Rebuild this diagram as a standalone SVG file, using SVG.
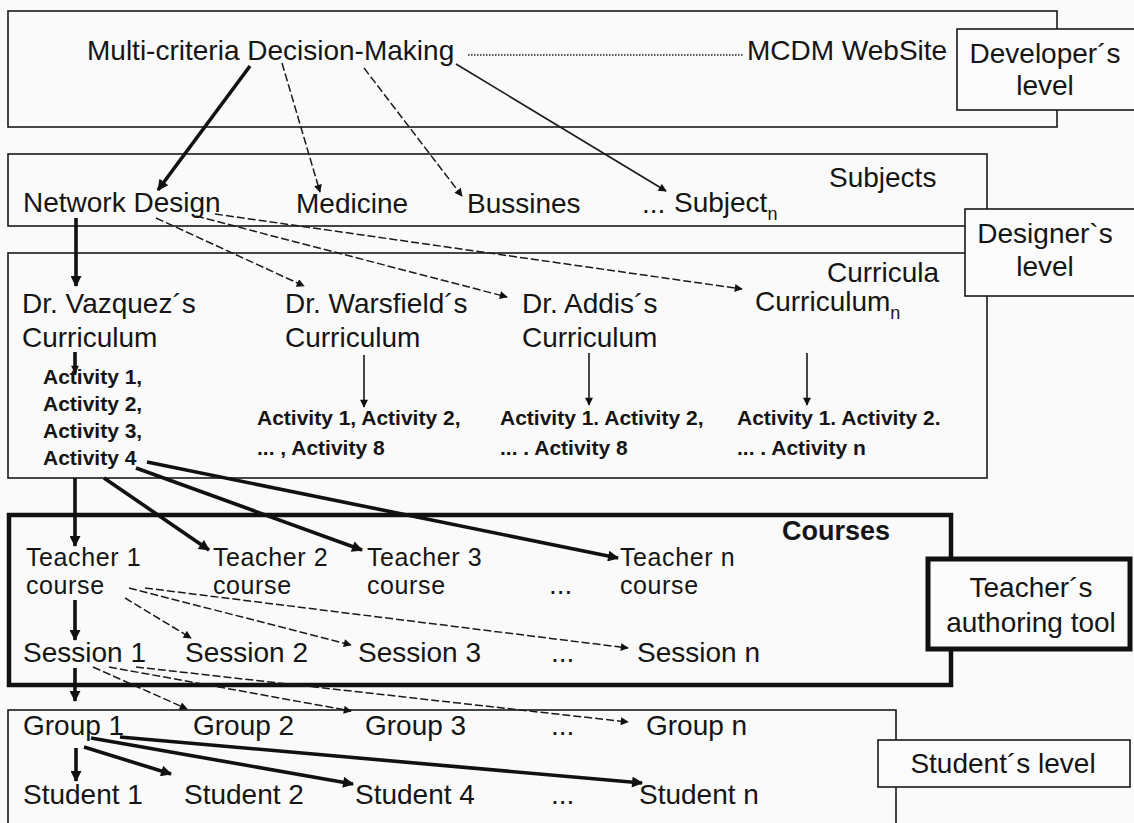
<svg xmlns="http://www.w3.org/2000/svg" width="1134" height="823" viewBox="0 0 1134 823">
  <style>
    .frame { fill: none; stroke: #1a1a1a; stroke-width: 1.6; }
    .frame-bold { fill: none; stroke: #111; stroke-width: 4.5; }
    .tag { fill: #fbfbfb; stroke: #1a1a1a; stroke-width: 1.6; }
    .tag-bold { fill: #fbfbfb; stroke: #111; stroke-width: 5; }
    text { font-family: "Liberation Sans", Arial, sans-serif; font-size: 28px; fill: #151515; }
    .act { font-weight: bold; font-size: 21px; }
    .hdr { font-weight: bold; font-size: 27px; }
    .tight { font-size: 25px; letter-spacing: 0.6px; }
    .mid { text-anchor: middle; }
    .sub { font-size: 18px; }
    .thick { fill: none; stroke: #111; stroke-width: 3.6; }
    .thin { fill: none; stroke: #1a1a1a; stroke-width: 1.6; }
    .dash { fill: none; stroke: #1a1a1a; stroke-width: 1.5; stroke-dasharray: 8 3; }
    .dot { fill: none; stroke: #222; stroke-width: 1.4; stroke-dasharray: 1.5 1.5; }
  </style>
  <defs>
    <marker id="headThin" viewBox="0 0 10 10" refX="9" refY="5" markerWidth="10" markerHeight="8" markerUnits="userSpaceOnUse" orient="auto">
      <path d="M0,0 L10,5 L0,10 z" fill="#111"/>
    </marker>
    <marker id="headThick" viewBox="0 0 10 10" refX="9" refY="5" markerWidth="13" markerHeight="11" markerUnits="userSpaceOnUse" orient="auto">
      <path d="M0,0 L10,5 L0,10 z" fill="#111"/>
    </marker>
  </defs>

  <rect width="1134" height="823" fill="#fafafa"/>

  <!-- level frames -->
  <g id="developer-frame"><rect class="frame" x="8" y="11" width="1049" height="116"/></g>
  <g id="subjects-frame"><rect class="frame" x="8" y="154" width="979" height="72"/></g>
  <g id="curricula-frame"><rect class="frame" x="8" y="253" width="979" height="225"/></g>
  <g id="courses-frame"><rect class="frame-bold" x="9" y="515" width="942" height="170"/></g>
  <g id="groups-frame"><rect class="frame" x="8" y="710" width="888" height="125"/></g>

  <!-- level tags -->
  <g id="developers-level">
    <rect class="tag" x="957" y="29" width="180" height="81"/>
    <text class="mid" x="1045" y="63">Developer´s</text>
    <text class="mid" x="1045" y="95">level</text>
  </g>
  <g id="designers-level">
    <rect class="tag" x="965" y="209" width="172" height="87"/>
    <text class="mid" x="1045" y="243">Designer`s</text>
    <text class="mid" x="1045" y="276">level</text>
  </g>
  <g id="teachers-tool">
    <rect class="tag-bold" x="928" y="559" width="202" height="90"/>
    <text class="mid" x="1031" y="597">Teacher´s</text>
    <text class="mid" x="1031" y="632">authoring tool</text>
  </g>
  <g id="students-level">
    <rect class="tag" x="878" y="740" width="252" height="47"/>
    <text class="mid" x="1003" y="773">Student´s level</text>
  </g>

  <!-- connectors -->
  <g id="connectors">
    <line class="dot" x1="468" y1="55" x2="744" y2="55"/>
    <line class="thick" x1="250" y1="66" x2="158" y2="190" marker-end="url(#headThick)"/>
    <line class="dash" x1="282" y1="63" x2="320" y2="192" marker-end="url(#headThin)"/>
    <line class="dash" x1="364" y1="68" x2="462" y2="196" marker-end="url(#headThin)"/>
    <line class="thin" x1="456" y1="64" x2="666" y2="191" marker-end="url(#headThin)"/>

    <line class="thick" x1="76" y1="218" x2="76" y2="286" marker-end="url(#headThick)"/>
    <line class="dash" x1="156" y1="218" x2="304" y2="286" marker-end="url(#headThin)"/>
    <line class="dash" x1="196" y1="216" x2="507" y2="297" marker-end="url(#headThin)"/>
    <line class="dash" x1="215" y1="214" x2="742" y2="289" marker-end="url(#headThin)"/>

    <line class="thick" x1="75" y1="352" x2="75" y2="373" marker-end="url(#headThin)"/>
    <line class="thin" x1="364" y1="355" x2="364" y2="407" marker-end="url(#headThin)"/>
    <line class="thin" x1="589" y1="353" x2="589" y2="405" marker-end="url(#headThin)"/>
    <line class="thin" x1="807" y1="353" x2="807" y2="405" marker-end="url(#headThin)"/>

    <line class="thick" x1="75" y1="478" x2="75" y2="546" marker-end="url(#headThick)"/>
    <line class="thick" x1="104" y1="478" x2="209" y2="550" marker-end="url(#headThick)"/>
    <line class="thick" x1="136" y1="468" x2="362" y2="550" marker-end="url(#headThick)"/>
    <line class="thick" x1="147" y1="462" x2="618" y2="558" marker-end="url(#headThick)"/>

    <line class="thick" x1="75" y1="600" x2="75" y2="640" marker-end="url(#headThick)"/>
    <line class="dash" x1="125" y1="598" x2="191" y2="638" marker-end="url(#headThin)"/>
    <line class="dash" x1="129" y1="588" x2="351" y2="645" marker-end="url(#headThin)"/>
    <line class="dash" x1="145" y1="588" x2="628" y2="648" marker-end="url(#headThin)"/>

    <line class="thick" x1="75" y1="668" x2="75" y2="701" marker-end="url(#headThick)"/>
    <line class="dash" x1="93" y1="667" x2="187" y2="709" marker-end="url(#headThin)"/>
    <line class="dash" x1="109" y1="667" x2="351" y2="711" marker-end="url(#headThin)"/>
    <line class="dash" x1="136" y1="667" x2="628" y2="722" marker-end="url(#headThin)"/>

    <line class="thick" x1="76" y1="748" x2="76" y2="781" marker-end="url(#headThick)"/>
    <line class="thick" x1="84" y1="747" x2="171" y2="774" marker-end="url(#headThick)"/>
    <line class="thick" x1="91" y1="738" x2="353" y2="784" marker-end="url(#headThick)"/>
    <line class="thick" x1="120" y1="737" x2="642" y2="783" marker-end="url(#headThick)"/>
  </g>

  <!-- developer level -->
  <g id="mcdm"><text x="87" y="60">Multi-criteria Decision-Making</text></g>
  <g id="mcdm-website"><text x="747" y="60">MCDM WebSite</text></g>

  <!-- subjects -->
  <g id="subjects-label"><text x="829" y="187">Subjects</text></g>
  <g id="network-design"><text x="23" y="212">Network Design</text></g>
  <g id="medicine"><text x="296" y="213">Medicine</text></g>
  <g id="bussines"><text x="467" y="213">Bussines</text></g>
  <g id="subjects-more"><text x="642" y="213">...</text></g>
  <g id="subject-n"><text x="674" y="212">Subject<tspan class="sub" dy="8">n</tspan></text></g>

  <!-- curricula -->
  <g id="curricula-label"><text x="827" y="282">Curricula</text></g>
  <g id="vazquez">
    <text x="22" y="313">Dr. Vazquez´s</text>
    <text x="22" y="347">Curriculum</text>
    <text class="act" x="43" y="384">Activity 1,</text>
    <text class="act" x="43" y="411">Activity 2,</text>
    <text class="act" x="43" y="438">Activity 3,</text>
    <text class="act" x="43" y="465">Activity 4</text>
  </g>
  <g id="warsfield">
    <text x="285" y="313">Dr. Warsfield´s</text>
    <text x="285" y="347">Curriculum</text>
    <text class="act" x="257" y="425">Activity 1, Activity 2,</text>
    <text class="act" x="257" y="455">... , Activity 8</text>
  </g>
  <g id="addis">
    <text x="522" y="313">Dr. Addis´s</text>
    <text x="522" y="347">Curriculum</text>
    <text class="act" x="500" y="425">Activity 1. Activity 2,</text>
    <text class="act" x="500" y="455">... . Activity 8</text>
  </g>
  <g id="curriculum-n">
    <text x="755" y="311">Curriculum<tspan class="sub" dy="8">n</tspan></text>
    <text class="act" x="737" y="425">Activity 1. Activity 2.</text>
    <text class="act" x="737" y="455">... . Activity n</text>
  </g>

  <!-- courses -->
  <g id="courses-label"><text class="hdr" x="782" y="540">Courses</text></g>
  <g id="teacher-1"><text class="tight" x="26" y="566">Teacher 1</text><text class="tight" x="26" y="594">course</text></g>
  <g id="teacher-2"><text class="tight" x="213" y="566">Teacher 2</text><text class="tight" x="213" y="594">course</text></g>
  <g id="teacher-3"><text class="tight" x="367" y="566">Teacher 3</text><text class="tight" x="367" y="594">course</text></g>
  <g id="teachers-more"><text x="549" y="594">...</text></g>
  <g id="teacher-n"><text class="tight" x="620" y="566">Teacher n</text><text class="tight" x="620" y="594">course</text></g>

  <g id="session-1"><text x="23" y="662">Session 1</text></g>
  <g id="session-2"><text x="185" y="662">Session 2</text></g>
  <g id="session-3"><text x="358" y="662">Session 3</text></g>
  <g id="sessions-more"><text x="551" y="662">...</text></g>
  <g id="session-n"><text x="637" y="662">Session n</text></g>

  <!-- groups and students -->
  <g id="group-1"><text x="23" y="735">Group 1</text></g>
  <g id="group-2"><text x="193" y="735">Group 2</text></g>
  <g id="group-3"><text x="365" y="735">Group 3</text></g>
  <g id="groups-more"><text x="551" y="735">...</text></g>
  <g id="group-n"><text x="646" y="735">Group n</text></g>

  <g id="student-1"><text x="23" y="804">Student 1</text></g>
  <g id="student-2"><text x="184" y="804">Student 2</text></g>
  <g id="student-4"><text x="355" y="804">Student 4</text></g>
  <g id="students-more"><text x="551" y="804">...</text></g>
  <g id="student-n"><text x="639" y="804">Student n</text></g>
</svg>
